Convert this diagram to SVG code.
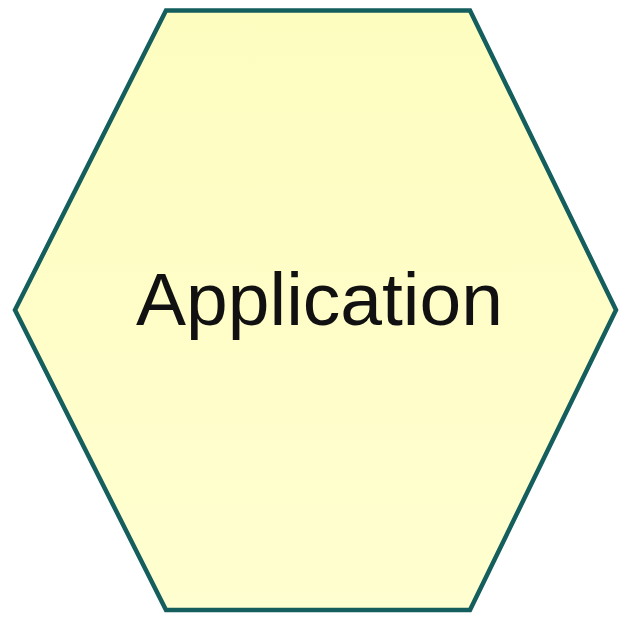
<svg xmlns="http://www.w3.org/2000/svg" width="620" height="618" viewBox="0 0 620 618">
<defs>
<linearGradient id="g" x1="0" y1="0" x2="0" y2="1">
<stop offset="0" stop-color="#FEFDC0"/>
<stop offset="1" stop-color="#FFFED0"/>
</linearGradient>
<style>
.hex{fill:url(#g);stroke:#155E5E;stroke-width:4.5;stroke-linejoin:miter}
.lbl{font-family:"Liberation Sans",Arial,sans-serif;font-size:75px;fill:#111;text-anchor:middle}
</style>
</defs>
<g id="application">
<polygon class="hex" points="166,10.5 470,10.5 616,310 470,610 166,610 15,310"/>
<text class="lbl" x="319.5" y="325">Application</text>
</g>
<g id="connectors"/>
</svg>
